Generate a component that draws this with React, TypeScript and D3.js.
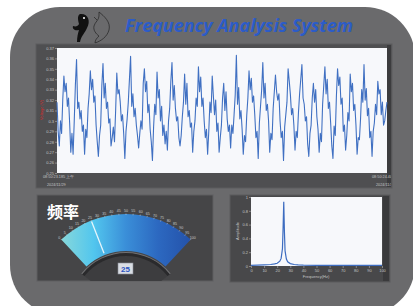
import React, {useEffect, useRef} from "react";
import * as d3 from 'd3';

const WIDTH = 413;
const HEIGHT = 306;

// voltage samples (V)
const voltage = [
    0.318, 0.290, 0.276, 0.300, 0.288, 0.320, 0.343, 0.328, 0.336, 0.314, 0.322, 0.298,
    0.270, 0.288, 0.268, 0.300, 0.335, 0.359, 0.312, 0.318, 0.302, 0.310, 0.290, 0.296,
    0.268, 0.292, 0.284, 0.312, 0.326, 0.348, 0.330, 0.340, 0.318, 0.324, 0.296, 0.280,
    0.266, 0.286, 0.296, 0.334, 0.355, 0.322, 0.336, 0.312, 0.318, 0.298, 0.302, 0.276,
    0.284, 0.294, 0.280, 0.310, 0.346, 0.326, 0.330, 0.318, 0.300, 0.306, 0.288, 0.264,
    0.290, 0.302, 0.318, 0.340, 0.362, 0.314, 0.326, 0.304, 0.312, 0.296, 0.286, 0.274,
    0.288, 0.300, 0.292, 0.336, 0.350, 0.328, 0.338, 0.308, 0.316, 0.292, 0.280, 0.262,
    0.294, 0.316, 0.306, 0.347, 0.322, 0.330, 0.300, 0.314, 0.286, 0.296, 0.278, 0.290,
    0.272, 0.300, 0.312, 0.338, 0.356, 0.320, 0.334, 0.312, 0.300, 0.304, 0.284, 0.276,
    0.286, 0.304, 0.318, 0.345, 0.316, 0.336, 0.304, 0.310, 0.294, 0.298, 0.270, 0.290,
    0.300, 0.322, 0.314, 0.352, 0.328, 0.342, 0.314, 0.322, 0.300, 0.284, 0.292, 0.268,
    0.290, 0.318, 0.308, 0.343, 0.324, 0.306, 0.320, 0.290, 0.298, 0.270, 0.284, 0.296,
    0.322, 0.336, 0.310, 0.328, 0.302, 0.290, 0.296, 0.274, 0.296, 0.288, 0.306, 0.325,
    0.363, 0.316, 0.332, 0.302, 0.310, 0.292, 0.268, 0.286, 0.280, 0.305, 0.322, 0.348,
    0.330, 0.341, 0.318, 0.324, 0.306, 0.284, 0.290, 0.264, 0.298, 0.314, 0.330, 0.356,
    0.322, 0.336, 0.310, 0.316, 0.300, 0.270, 0.288, 0.282, 0.312, 0.328, 0.344, 0.328,
    0.320, 0.326, 0.300, 0.284, 0.290, 0.262, 0.294, 0.306, 0.318, 0.350, 0.338, 0.325,
    0.306, 0.312, 0.296, 0.272, 0.290, 0.284, 0.308, 0.326, 0.340, 0.354, 0.322, 0.316,
    0.300, 0.304, 0.278, 0.266, 0.288, 0.296, 0.322, 0.336, 0.318, 0.330, 0.304, 0.292,
    0.270, 0.288, 0.280, 0.316, 0.334, 0.352, 0.326, 0.340, 0.312, 0.318, 0.298, 0.276,
    0.264, 0.295, 0.286, 0.324, 0.350, 0.334, 0.342, 0.316, 0.322, 0.290, 0.296, 0.272,
    0.286, 0.308, 0.300, 0.345, 0.328, 0.336, 0.310, 0.316, 0.296, 0.268, 0.284, 0.282,
    0.302, 0.330, 0.318, 0.354, 0.320, 0.331, 0.305, 0.312, 0.284, 0.290, 0.266, 0.290,
    0.298, 0.316, 0.306, 0.338, 0.326, 0.330, 0.306, 0.318, 0.296, 0.300, 0.310, 0.318,
];
const voltageTicks = [0.25, 0.26, 0.27, 0.28, 0.29, 0.3, 0.31, 0.32, 0.33, 0.34, 0.35, 0.36, 0.37];
const startTime = ["08:50:23.185 上午", "2024/11/29"];
const endTime = ["08:50:24.400 上午", "2024/11/29"];

// spectrum
const freqs = [0, 5, 10, 15, 18, 20, 22, 23, 24, 24.5, 25, 25.5, 26, 27, 28, 30, 33, 36, 40, 50, 60, 70, 80, 90, 100];
const amps = [0.01, 0.012, 0.016, 0.022, 0.03, 0.04, 0.07, 0.11, 0.25, 0.55, 0.93, 0.5, 0.22, 0.1, 0.06, 0.035, 0.022, 0.016, 0.012, 0.01, 0.009, 0.008, 0.008, 0.008, 0.008];
const ampTicks = [0, 0.2, 0.4, 0.6, 0.8, 1];
const freqTicks = [0, 10, 20, 30, 40, 50, 60, 70, 80, 90, 100];

// gauge
const gaugeValue = 25;
const gaugeTicks = [0, 5, 10, 15, 20, 25, 30, 35, 40, 45, 50, 55, 60, 65, 70, 75, 80, 85, 90, 95, 100];

const styleAxis = (g: any, color: string) => {
    g.select('.domain').remove();
    g.selectAll('line').attr('stroke', color).attr('stroke-width', 0.5);
    g.selectAll('text').attr('fill', color).style('font-size', '4px')
        .style('font-family', 'Arial, "Liberation Sans", sans-serif');
};

const App: React.FC = () => {
    const ref = useRef(null);

    useEffect(() => {
        const svg = d3.select(ref.current);
        svg.selectAll('*').remove();
        const defs = svg.append('defs');

        // outer rounded body
        svg.append('rect')
            .attr('x', 10).attr('y', 7).attr('width', 405).attr('height', 308)
            .attr('rx', 50).attr('fill', '#6a6a6c');

        // fish icons
        svg.append('path')
            .attr('d', 'M80 14 C88 13,91 21,87 28 C85 33,81 36,80 42 L77 42 C77 37,78 33,79 30 C75 31,72 29,73 26 C76 27,78 26,79 24 C78 20,77 16,80 14 Z')
            .attr('fill', '#111');
        svg.append('circle').attr('cx', 84).attr('cy', 18).attr('r', 1).attr('fill', '#fff');
        svg.append('path')
            .attr('d', 'M99 12 C104 16,111 22,109 30 C107 37,101 41,95 43 C95 40,97 38,99 36 C96 34,93 30,94 26 C95 22,99 20,99 16 Z M97 20 L94 17')
            .attr('fill', 'none').attr('stroke', '#222').attr('stroke-width', 0.7);

        svg.append('text')
            .attr('x', 125).attr('y', 32)
            .attr('textLength', 228).attr('lengthAdjust', 'spacingAndGlyphs')
            .style('font-family', '"Open Sans", sans-serif')
            .style('font-weight', 'bold').style('font-style', 'italic')
            .style('font-size', '17px').attr('fill', '#2c5cc8')
            .text('Frequency Analysis System');

        // ---------- top time chart ----------
        svg.append('rect').attr('x', 36).attr('y', 44).attr('width', 356).attr('height', 144)
            .attr('fill', '#4f4f51').attr('stroke', '#5c5c5e').attr('stroke-width', 1);
        svg.append('rect').attr('x', 387).attr('y', 45).attr('width', 4).attr('height', 142).attr('fill', '#3c3c3e');
        svg.append('rect').attr('x', 57).attr('y', 48).attr('width', 330).attr('height', 125).attr('fill', '#f7f8fb');

        const xT = d3.scaleLinear().domain([0, voltage.length - 1]).range([57, 387]);
        const yT = d3.scaleLinear().domain([0.25, 0.37]).range([173, 48]);

        svg.append('g').attr('transform', 'translate(57,0)')
            .call(d3.axisLeft(yT).tickValues(voltageTicks).tickSize(2).tickPadding(1)
                .tickFormat((d: any) => String(+(+d).toFixed(2))))
            .call((g: any) => styleAxis(g, '#c4c4c6'));

        svg.append('text').attr('transform', 'translate(43,110) rotate(-90)')
            .attr('text-anchor', 'middle').attr('fill', '#d42a2a')
            .style('font-size', '4px').style('font-family', 'Arial, sans-serif')
            .text('Voltage (V)');

        svg.append('path').datum(voltage)
            .attr('d', d3.line<number>().x((d, i) => xT(i)).y(d => yT(d)))
            .attr('fill', 'none').attr('stroke', '#4070c2').attr('stroke-width', 1.1)
            .attr('stroke-linejoin', 'round');

        defs.append('clipPath').attr('id', 'topclip').append('rect')
            .attr('x', 36).attr('y', 44).attr('width', 355).attr('height', 144);
        const timeG = svg.append('g').attr('clip-path', 'url(#topclip)')
            .style('font-size', '3.8px').style('font-family', 'Arial, sans-serif').attr('fill', '#c4c4c6');
        timeG.append('text').attr('x', 43).attr('y', 178).text(startTime[0]);
        timeG.append('text').attr('x', 47).attr('y', 186).text(startTime[1]);
        timeG.append('text').attr('x', 372).attr('y', 178).text(endTime[0]);
        timeG.append('text').attr('x', 376).attr('y', 186).text(endTime[1]);

        // ---------- gauge panel ----------
        svg.append('rect').attr('x', 37).attr('y', 195).attr('width', 176).attr('height', 86)
            .attr('fill', '#454547').attr('stroke', '#5e5e60').attr('stroke-width', 1);
        svg.append('text').attr('x', 47).attr('y', 218)
            .style('font-family', '"Noto Sans CJK SC", sans-serif').style('font-weight', 'bold')
            .style('font-size', '16px').attr('fill', '#ffffff').text('频率');

        const cx = 126, cy = 309;
        const maxA = 0.75;
        const angle = d3.scaleLinear().domain([0, 100]).range([-maxA, maxA]);
        const grad = defs.append('linearGradient').attr('id', 'gaugeGrad')
            .attr('gradientUnits', 'userSpaceOnUse').attr('x1', -65).attr('x2', 65).attr('y1', 0).attr('y2', 0);
        [['0', '#88d8da'], ['0.25', '#52c6ee'], ['0.5', '#3a8ed8'], ['0.75', '#2c68c0'], ['1', '#2452aa']]
            .forEach(([o, c]) => grad.append('stop').attr('offset', o).attr('stop-color', c));

        defs.append('clipPath').attr('id', 'gclip').append('rect')
            .attr('x', 37).attr('y', 195).attr('width', 176).attr('height', 86);
        const gG = svg.append('g').attr('clip-path', 'url(#gclip)')
            .append('g').attr('transform', `translate(${cx},${cy})`);
        const arc = d3.arc();

        gG.append('path')
            .attr('d', arc({innerRadius: 58, outerRadius: 95, startAngle: -maxA, endAngle: maxA} as any) as string)
            .attr('fill', 'url(#gaugeGrad)');

        // needle
        const na = angle(gaugeValue);
        gG.append('line')
            .attr('x1', 60 * Math.sin(na)).attr('y1', -60 * Math.cos(na))
            .attr('x2', 94 * Math.sin(na)).attr('y2', -94 * Math.cos(na))
            .attr('stroke', '#ffffff').attr('stroke-width', 1.3).attr('opacity', 0.85);

        // hub
        gG.append('path')
            .attr('d', arc({innerRadius: 0, outerRadius: 54, startAngle: -0.9, endAngle: 0.9} as any) as string)
            .attr('fill', '#3d3d3f');
        gG.append('path')
            .attr('d', arc({innerRadius: 53, outerRadius: 56.5, startAngle: -0.9, endAngle: 0.9} as any) as string)
            .attr('fill', '#2a2a2c');
        gG.append('path')
            .attr('d', arc({innerRadius: 56, outerRadius: 57, startAngle: -0.9, endAngle: 0.9} as any) as string)
            .attr('fill', '#707072');

        // ticks & labels
        gG.selectAll('.gt').data(gaugeTicks).enter().append('line')
            .attr('x1', d => 94 * Math.sin(angle(d))).attr('y1', d => -94 * Math.cos(angle(d)))
            .attr('x2', d => 95.5 * Math.sin(angle(d))).attr('y2', d => -95.5 * Math.cos(angle(d)))
            .attr('stroke', '#d0d0d2').attr('stroke-width', 0.5);
        gG.selectAll('.gl').data(gaugeTicks).enter().append('text')
            .attr('x', d => 98 * Math.sin(angle(d))).attr('y', d => -98 * Math.cos(angle(d)) + 1.2)
            .attr('text-anchor', 'middle').attr('fill', '#c8c8ca')
            .style('font-size', '3.6px').style('font-family', 'Arial, sans-serif')
            .text(d => String(d));

        svg.append('rect').attr('x', 118).attr('y', 263).attr('width', 15).attr('height', 11)
            .attr('fill', '#d9dde4').attr('stroke', '#8a8e96').attr('stroke-width', 0.6);
        svg.append('text').attr('x', 125.5).attr('y', 272).attr('text-anchor', 'middle')
            .style('font-family', 'Arial, sans-serif').style('font-weight', 'bold').style('font-size', '8px')
            .attr('fill', '#2a52c0').text(String(gaugeValue));

        // ---------- spectrum panel ----------
        svg.append('rect').attr('x', 230).attr('y', 195).attr('width', 160).attr('height', 87)
            .attr('fill', '#48484a').attr('stroke', '#5a5a5c').attr('stroke-width', 1);
        svg.append('rect').attr('x', 383).attr('y', 196).attr('width', 6).attr('height', 85).attr('fill', '#3a3a3c');
        svg.append('rect').attr('x', 251).attr('y', 197).attr('width', 131).attr('height', 69).attr('fill', '#f7f8fb');

        const xS = d3.scaleLinear().domain([0, 100]).range([251, 382]);
        const yS = d3.scaleLinear().domain([0, 1]).range([266, 197]);

        svg.append('g').attr('transform', 'translate(251,0)')
            .call(d3.axisLeft(yS).tickValues(ampTicks).tickSize(2).tickPadding(1).tickFormat((d: any) => String(d)))
            .call((g: any) => styleAxis(g, '#c4c4c6'));
        svg.append('g').attr('transform', 'translate(0,266)')
            .call(d3.axisBottom(xS).tickValues(freqTicks).tickSize(2).tickPadding(1).tickFormat((d: any) => String(d)))
            .call((g: any) => styleAxis(g, '#c4c4c6'));

        svg.append('text').attr('transform', 'translate(239,231) rotate(-90)')
            .attr('text-anchor', 'middle').attr('fill', '#c4c4c6')
            .style('font-size', '4px').style('font-family', 'Arial, sans-serif').text('Amplitude');
        svg.append('text').attr('x', 316).attr('y', 278)
            .attr('text-anchor', 'middle').attr('fill', '#c4c4c6')
            .style('font-size', '4px').style('font-family', 'Arial, sans-serif').text('Frequency(Hz)');

        svg.append('path').datum(freqs.map((f, i) => [f, amps[i]]))
            .attr('d', d3.line<number[]>().x(d => xS(d[0])).y(d => yS(d[1])))
            .attr('fill', 'none').attr('stroke', '#3d6cc0').attr('stroke-width', 1.2);
    }, []);

    return (
        <svg ref={ref} width={WIDTH} height={HEIGHT}
             style={{position: 'absolute', left: 0, top: 0, background: '#fff'}}/>
    );
};

export default App;
